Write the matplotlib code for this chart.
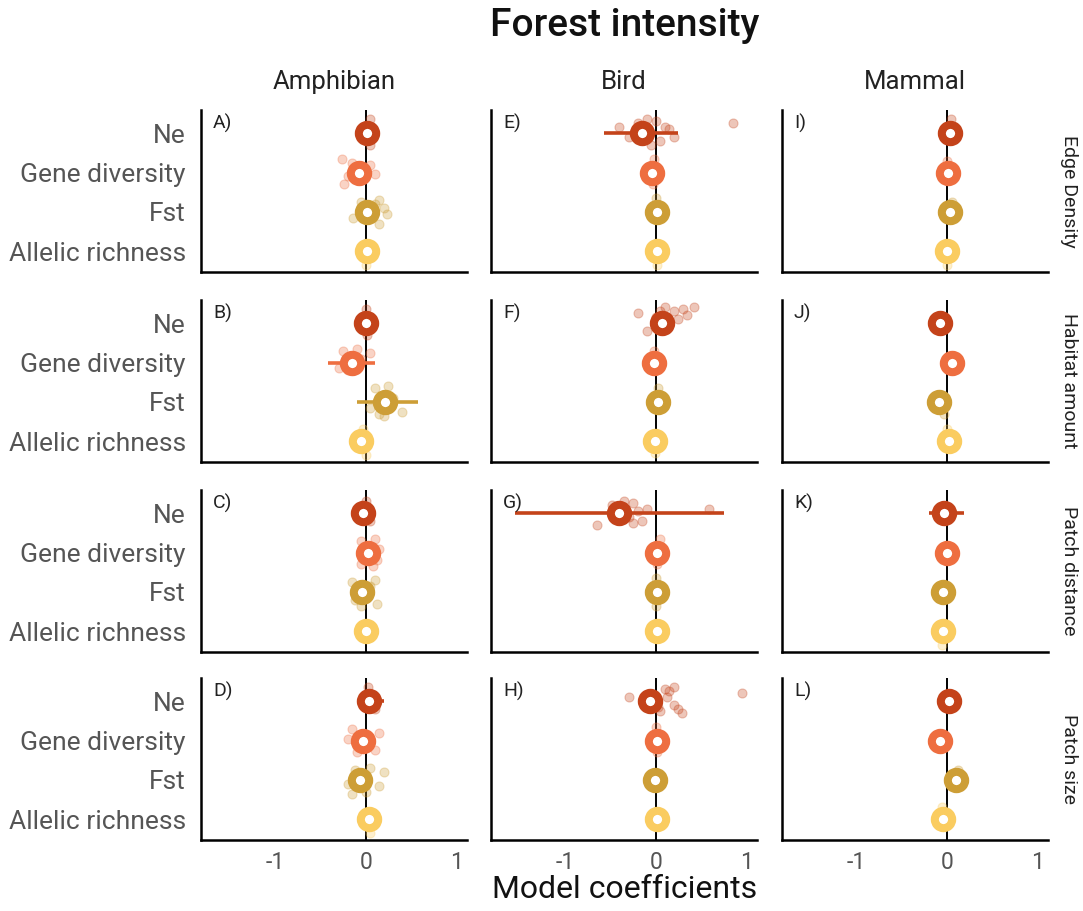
import numpy as np
import matplotlib
matplotlib.use('Agg')
import matplotlib.pyplot as plt

plt.rcParams['font.family'] = ['Roboto', 'DejaVu Sans']

# genetic metrics (top to bottom) and their colours
metrics = ['Ne', 'Gene diversity', 'Fst', 'Allelic richness']
metric_colors = ['#c4431a', '#ee6e40', '#cd9e36', '#facc60']

taxa = ['Amphibian', 'Bird', 'Mammal']
landscape = ['Edge Density', 'Habitat amount', 'Patch distance', 'Patch size']
panel_letters = [['A)', 'E)', 'I)'], ['B)', 'F)', 'J)'], ['C)', 'G)', 'K)'], ['D)', 'H)', 'L)']]

# estimates: rows = landscape variable, cols = Ne, Gene diversity, Fst, Allelic richness
amphibian_est = [[0.02, -0.07, 0.02, 0.01],
                 [0.00, -0.15, 0.21, -0.05],
                 [-0.03, 0.03, -0.04, 0.00],
                 [0.04, -0.03, -0.06, 0.04]]
amphibian_lo = [[-0.05, -0.14, -0.05, -0.05],
                [-0.07, -0.42, -0.10, -0.11],
                [-0.09, -0.04, -0.10, -0.06],
                [-0.08, -0.09, -0.12, -0.02]]
amphibian_hi = [[0.08, 0.00, 0.09, 0.07],
                [0.07, 0.10, 0.58, 0.01],
                [0.03, 0.10, 0.02, 0.06],
                [0.20, 0.03, 0.00, 0.10]]

bird_est = [[-0.15, -0.04, 0.01, 0.02],
            [0.07, -0.02, 0.03, -0.01],
            [-0.41, 0.02, 0.01, 0.01],
            [-0.06, 0.01, -0.01, 0.01]]
bird_lo = [[-0.57, -0.10, -0.05, -0.04],
           [-0.02, -0.08, -0.03, -0.07],
           [-1.56, -0.04, -0.05, -0.05],
           [-0.16, -0.05, -0.07, -0.05]]
bird_hi = [[0.25, 0.02, 0.07, 0.08],
           [0.16, 0.04, 0.09, 0.05],
           [0.76, 0.08, 0.07, 0.07],
           [0.04, 0.07, 0.05, 0.07]]

mammal_est = [[0.04, 0.01, 0.04, 0.00],
              [-0.07, 0.06, -0.08, 0.03],
              [-0.03, 0.00, -0.04, -0.04],
              [0.03, -0.07, 0.10, -0.04]]
mammal_lo = [[-0.02, -0.05, -0.02, -0.06],
             [-0.13, 0.00, -0.14, -0.03],
             [-0.20, -0.06, -0.10, -0.10],
             [-0.03, -0.13, 0.04, -0.10]]
mammal_hi = [[0.10, 0.07, 0.10, 0.06],
             [-0.01, 0.12, -0.02, 0.09],
             [0.19, 0.06, 0.02, 0.02],
             [0.09, -0.01, 0.16, 0.02]]

# individual model coefficients: (landscape row, metric, value, vertical jitter)
amphibian_pts = [
    (0, 0, 0.05, 0.35), (0, 0, 0.05, -0.30),
    (0, 1, -0.26, 0.35), (0, 1, -0.24, -0.30), (0, 1, -0.20, -0.10), (0, 1, 0.05, 0.20),
    (0, 1, 0.10, -0.05), (0, 1, -0.15, 0.25),
    (0, 2, 0.15, 0.30), (0, 2, 0.20, 0.10), (0, 2, 0.24, -0.05), (0, 2, -0.14, -0.15),
    (0, 2, 0.15, -0.30), (0, 2, -0.05, 0.25), (0, 2, 0.10, 0.20),
    (0, 3, 0.0, -0.35),
    (1, 0, 0.0, 0.35), (1, 0, 0.02, -0.30),
    (1, 1, -0.25, 0.30), (1, 1, -0.10, 0.35), (1, 1, -0.30, -0.15), (1, 1, -0.05, 0.10),
    (1, 1, 0.05, 0.25), (1, 1, -0.20, -0.20),
    (1, 2, 0.10, 0.35), (1, 2, 0.25, 0.40), (1, 2, 0.40, -0.25), (1, 2, 0.15, -0.30),
    (1, 2, 0.30, 0.10), (1, 2, 0.05, -0.15), (1, 2, 0.20, -0.35),
    (1, 3, -0.03, 0.30), (1, 3, 0.0, -0.35),
    (2, 0, 0.0, 0.30), (2, 0, 0.05, -0.20),
    (2, 1, -0.05, 0.30), (2, 1, 0.10, 0.35), (2, 1, 0.12, -0.20), (2, 1, -0.05, -0.30),
    (2, 1, 0.15, 0.10), (2, 1, 0.08, -0.35),
    (2, 2, -0.15, 0.25), (2, 2, 0.10, 0.30), (2, 2, -0.12, -0.20), (2, 2, 0.12, -0.30),
    (2, 2, 0.05, 0.15), (2, 2, -0.05, -0.35),
    (3, 0, 0.03, 0.35), (3, 0, 0.10, -0.20),
    (3, 1, -0.15, 0.30), (3, 1, 0.15, 0.20), (3, 1, -0.10, -0.30), (3, 1, 0.10, -0.25),
    (3, 1, -0.20, 0.05),
    (3, 2, -0.12, 0.25), (3, 2, 0.05, 0.30), (3, 2, 0.20, 0.20), (3, 2, -0.15, -0.35),
    (3, 2, 0.15, -0.15), (3, 2, 0.00, -0.30), (3, 2, -0.20, -0.10),
    (3, 3, 0.05, -0.35),
]
bird_pts = [
    (0, 0, -0.40, 0.15), (0, 0, -0.30, -0.10), (0, 0, -0.20, 0.25), (0, 0, 0.00, 0.30),
    (0, 0, 0.10, 0.15), (0, 0, 0.15, 0.10), (0, 0, 0.05, -0.20), (0, 0, -0.05, -0.30),
    (0, 0, 0.20, -0.10), (0, 0, 0.85, 0.25), (0, 0, -0.10, 0.35),
    (0, 1, -0.02, 0.35), (0, 1, -0.03, -0.30), (0, 2, 0.0, 0.35), (0, 3, 0.02, -0.35),
    (1, 0, -0.20, 0.25), (1, 0, 0.05, 0.30), (1, 0, 0.20, 0.30), (1, 0, 0.30, 0.35),
    (1, 0, 0.42, 0.40), (1, 0, 0.25, 0.10), (1, 0, 0.15, -0.05), (1, 0, 0.35, 0.20),
    (1, 0, -0.10, -0.20), (1, 0, 0.10, 0.40), (1, 0, 0.00, 0.15),
    (1, 1, -0.02, 0.30), (1, 2, 0.03, 0.35), (1, 3, -0.01, -0.30),
    (2, 0, -0.65, -0.30), (2, 0, 0.59, 0.10), (2, 0, -0.48, 0.20), (2, 0, -0.35, 0.30),
    (2, 0, -0.25, 0.25), (2, 0, -0.20, 0.05), (2, 0, -0.30, -0.10), (2, 0, -0.15, -0.20),
    (2, 0, -0.10, 0.10), (2, 0, -0.40, -0.15), (2, 0, -0.25, -0.25),
    (2, 1, 0.05, 0.35), (2, 1, 0.02, -0.30), (2, 2, 0.0, 0.35), (2, 2, 0.0, -0.35),
    (3, 0, -0.29, 0.10), (3, 0, 0.95, 0.20), (3, 0, 0.10, 0.30), (3, 0, 0.20, 0.35),
    (3, 0, 0.15, 0.25), (3, 0, 0.20, -0.10), (3, 0, 0.25, -0.20), (3, 0, 0.29, -0.30),
    (3, 0, 0.05, -0.25), (3, 0, 0.12, 0.10), (3, 0, 0.03, -0.15),
    (3, 1, 0.0, 0.35), (3, 1, 0.02, -0.30),
]
mammal_pts = [
    (0, 0, 0.05, 0.35), (0, 1, 0.0, 0.30), (0, 2, 0.06, 0.25), (0, 3, 0.0, -0.35),
    (1, 3, 0.0, 0.30), (1, 2, -0.03, -0.30),
    (2, 3, -0.05, -0.35), (3, 2, 0.12, 0.25), (3, 3, -0.05, 0.30),
]

est_all = [amphibian_est, bird_est, mammal_est]
lo_all = [amphibian_lo, bird_lo, mammal_lo]
hi_all = [amphibian_hi, bird_hi, mammal_hi]
pts_all = [amphibian_pts, bird_pts, mammal_pts]

ypos = [4, 3, 2, 1]
gray = '#555555'

fig = plt.figure(figsize=(10.83, 9.11), dpi=100)
W, H = 1083, 911
col_left = [201, 491, 782]
row_top = [110, 300, 490, 678]
aw, ah = 266, 162

for r in range(4):
    for c in range(3):
        ax = fig.add_axes([col_left[c] / W, 1 - (row_top[r] + ah) / H, aw / W, ah / H])
        ax.axvline(0, color='black', lw=1.4, zorder=1)
        for (rr, m, v, dy) in pts_all[c]:
            if rr != r:
                continue
            ax.plot(v, ypos[m] + dy, 'o', ms=6.5, color=metric_colors[m], alpha=0.3,
                    mec=metric_colors[m], mew=0.8, zorder=2)
        for m in range(4):
            e = est_all[c][r][m]
            ax.plot([lo_all[c][r][m], hi_all[c][r][m]], [ypos[m], ypos[m]],
                    color=metric_colors[m], lw=2.6, solid_capstyle='butt', zorder=3)
            ax.plot(e, ypos[m], 'o', ms=12.5, mfc='white', mec=metric_colors[m], mew=5.8, zorder=4)
        ax.set_xlim(-1.82, 1.12)
        ax.set_ylim(0.47, 4.59)
        for s in ['top', 'right']:
            ax.spines[s].set_visible(False)
        for s in ['left', 'bottom']:
            ax.spines[s].set_linewidth(1.8)
            ax.spines[s].set_color('black')
        ax.set_xticks([-1, 0, 1])
        ax.set_yticks(ypos)
        ax.tick_params(length=0)
        ax.tick_params(axis='y', pad=11)
        if r == 3:
            ax.set_xticklabels(['-1', '0', '1'], fontsize=16.5, color=gray)
            ax.tick_params(axis='x', pad=8)
        else:
            ax.set_xticklabels([])
        if c == 0:
            ax.set_yticklabels(metrics, fontsize=19, color=gray)
        else:
            ax.set_yticklabels([])
        ax.text(0.045, 0.975, panel_letters[r][c], transform=ax.transAxes, fontsize=14,
                va='top', ha='left', color='#222222')
        if r == 0:
            ax.text(0.5, 1.1, taxa[c], transform=ax.transAxes, fontsize=18.5,
                    ha='center', va='bottom', color='#222222')
        if c == 2:
            ax.text(1.045, 0.5, landscape[r], transform=ax.transAxes, fontsize=14,
                    rotation=-90, ha='left', va='center', color='#222222')

fig.text(625 / W, 1 - 25 / H, 'Forest intensity', fontsize=28, ha='center', va='center',
         color='#111111', fontweight='medium')
fig.text(625 / W, 1 - 890 / H, 'Model coefficients', fontsize=23, ha='center', va='center',
         color='#111111')

fig.savefig('out.png', dpi=100)
